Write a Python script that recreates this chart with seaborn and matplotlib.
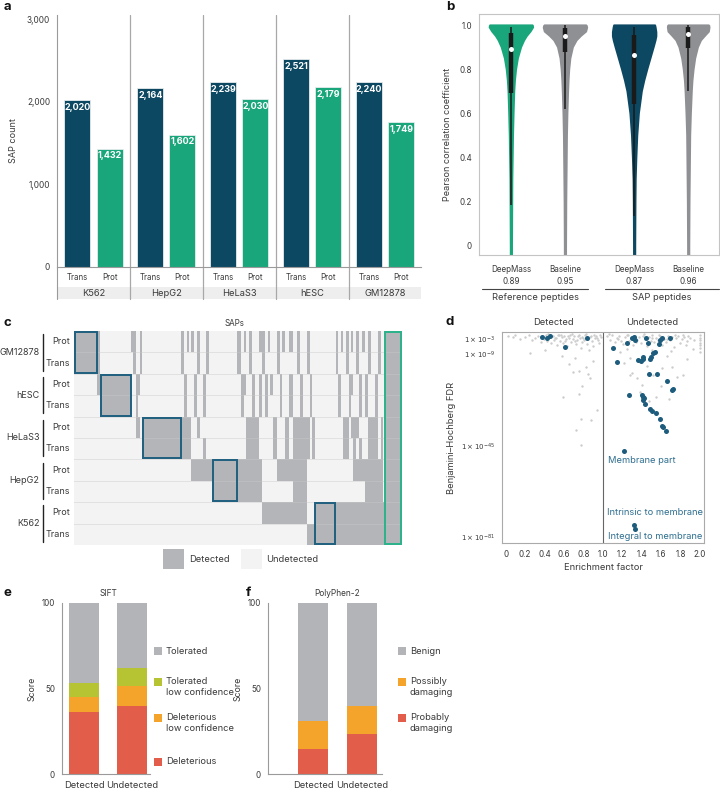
import numpy as np
import pandas as pd
import matplotlib
matplotlib.use("Agg")
import matplotlib.pyplot as plt
import seaborn as sns
from matplotlib.colors import ListedColormap
from matplotlib.patches import Rectangle
from matplotlib.lines import Line2D
import matplotlib.transforms as mtrans
from matplotlib.ticker import NullLocator

# ---------------- data ----------------
# panel a
cells_a = ["K562", "HepG2", "HeLaS3", "hESC", "GM12878"]
trans_counts = [2020, 2164, 2239, 2521, 2240]
prot_counts = [1432, 1602, 2030, 2179, 1749]

# panel b (violin half-width profiles, fraction of max width)
corr_grid = [-0.045, 0.0, 0.1, 0.2, 0.3, 0.4, 0.5, 0.6, 0.7, 0.75, 0.8, 0.85, 0.9, 0.93, 0.95, 0.97, 0.99, 1.0, 1.005]
ref_deepmass_w = [0.07, 0.07, 0.075, 0.08, 0.085, 0.10, 0.115, 0.14, 0.17, 0.20, 0.25, 0.33, 0.47, 0.60, 0.72, 0.88, 1.0, 0.99, 0.95]
ref_baseline_w = [0.07, 0.07, 0.075, 0.08, 0.09, 0.10, 0.11, 0.13, 0.16, 0.18, 0.21, 0.26, 0.37, 0.53, 0.72, 0.95, 1.0, 0.98, 0.93]
sap_deepmass_w = [0.07, 0.07, 0.075, 0.08, 0.09, 0.12, 0.16, 0.23, 0.36, 0.47, 0.60, 0.74, 0.88, 0.96, 1.0, 1.0, 0.97, 0.95, 0.92]
sap_baseline_w = [0.07, 0.07, 0.075, 0.08, 0.09, 0.10, 0.11, 0.14, 0.18, 0.21, 0.26, 0.33, 0.45, 0.58, 0.75, 0.93, 0.96, 0.95, 0.90]
violin_labels = ["DeepMass\n0.89", "Baseline\n0.95", "DeepMass\n0.87", "Baseline\n0.96"]
box_q1 = [0.692, 0.879, 0.639, 0.894]
box_q3 = [0.962, 0.985, 0.955, 0.990]
box_lo = [0.18, 0.62, 0.13, 0.70]
box_hi = [0.99, 1.0, 0.99, 1.0]
box_med = [0.89, 0.95, 0.865, 0.96]

# panel c: runs of SAP columns (width, detected pattern over the 10 rows)
row_types = ["Prot", "Trans"] * 5
cells_c = ["GM12878", "hESC", "HeLaS3", "HepG2", "K562"]
sap_widths = [23, 3, 31, 2, 3, 2, 2, 2, 39, 3, 3, 2, 2, 3, 3, 3, 3, 3, 3, 3, 25,
              3, 3, 2, 3, 3, 3, 4, 3, 3, 3, 2, 3, 4, 3, 2, 3, 4, 4, 4, 3, 3, 4,
              3, 2, 3, 21, 2, 3, 2, 3, 3, 2, 2, 3, 3, 3, 3, 3, 3, 4, 3, 3, 2, 2, 17]
sap_patterns = ["1100000000", "1110000000", "0011000000", "1000000000", "1100000000",
                "0011100000", "0010100000", "1100000000", "0000110000", "1100110000",
                "0011110000", "1000110000", "0000110000", "1000001000", "0011001000",
                "1100101000", "0000001000", "0011011000", "1100001000", "0000001000",
                "0000001100", "1100001100", "0011001100", "1010001100", "0000111100",
                "1100111100", "0011111100", "0000111100", "1011001100", "1100000010",
                "0011000010", "1000000010", "0010000010", "0000110010", "1100001010",
                "0011001010", "1000001010", "0000111010", "1011001010", "0000111110",
                "1100111110", "0011111110", "0000111110", "1100110001", "0011000001",
                "0000110001", "0000000011", "1100000011", "0011000011", "1000000011",
                "0000110011", "1100110011", "0011000011", "1010100011", "0000111011",
                "1100101011", "0011011011", "1000001011", "0011001111", "1100111111",
                "0000111111", "0011111111", "1100001111", "0000111111", "0000000011",
                "1111111111"]

# panel d: (enrichment, log10 FDR)
gray_x = [0.02, 0.08, 0.10, 0.15, 0.20, 0.24, 0.27, 0.30, 0.33, 0.36, 0.39, 0.41, 0.43, 0.45, 0.47,
          0.49, 0.50, 0.52, 0.53, 0.55, 0.56, 0.58, 0.59, 0.60, 0.62, 0.63, 0.65, 0.66, 0.67, 0.69,
          0.70, 0.72, 0.73, 0.74, 0.76, 0.77, 0.78, 0.79, 0.81, 0.82, 0.84, 0.85, 0.86, 0.88, 0.89,
          0.90, 0.92, 0.93, 0.95, 0.96, 0.98,
          0.44, 0.51, 0.57, 0.61, 0.64, 0.68, 0.71, 0.75, 0.80, 0.83, 0.87, 0.91, 0.94, 0.97, 0.54,
          0.25, 0.40, 0.65, 0.69, 0.75, 0.83, 0.85, 0.87, 0.79, 0.59, 0.75, 0.94, 0.88, 0.77, 0.72,
          0.77, 0.58, 0.71, 0.90,
          1.04, 1.07, 1.09, 1.12, 1.14, 1.17, 1.19, 1.21, 1.23, 1.25, 1.27, 1.29, 1.31, 1.33, 1.35,
          1.37, 1.39, 1.41, 1.43, 1.45, 1.47, 1.49, 1.51, 1.53, 1.55, 1.57, 1.59, 1.61, 1.63, 1.65,
          1.67, 1.69, 1.71, 1.73, 1.75, 1.77, 1.79, 1.81, 1.83, 1.85, 1.87, 1.90,
          1.06, 1.16, 1.26, 1.34, 1.42, 1.50, 1.58, 1.66, 1.74, 1.82, 1.88, 1.94,
          2.0, 2.0, 2.0, 2.0, 2.0, 2.0, 2.0,
          1.18, 1.28, 1.30, 1.35, 1.40, 1.52, 1.61, 1.71, 1.76, 1.82, 1.28, 1.38, 1.55, 1.22, 1.45,
          1.66, 1.86, 1.50, 1.25, 1.70, 1.93, 1.60, 1.47, 1.68]
gray_log_fdr = [-2.0, -2.4, -1.6, -3.0, -2.2, -1.5, -3.4, -2.6, -1.8, -4.0, -3.0, -1.5, -3.8, -2.2, -4.6,
                -1.8, -3.2, -2.5, -5.2, -1.6, -3.6, -2.3, -4.4, -1.9, -3.1, -5.8, -2.6, -1.5, -4.0, -3.0,
                -2.0, -5.0, -3.5, -1.7, -2.8, -6.5, -4.2, -2.2, -3.3, -1.6, -4.8, -2.9, -7.4, -2.0, -3.8,
                -5.6, -2.5, -1.7, -3.2, -4.5, -2.2,
                -1.2, -2.8, -1.3, -3.9, -2.0, -1.2, -3.7, -1.3, -2.6, -1.2, -2.4, -1.3, -2.7, -1.4, -1.3,
                -8.5, -7.3, -12.8, -16.0, -15.6, -14.0, -16.9, -18.5, -21.4, -25.8, -24.6, -30.9, -34.8, -34.4, -38.8,
                -44.7, -9.8, -10.5, -11.5,
                -2.0, -3.2, -1.6, -4.1, -2.5, -1.8, -3.6, -5.0, -2.2, -1.5, -3.9, -2.8, -5.5, -1.7, -3.3,
                -2.4, -4.6, -1.9, -3.0, -5.9, -2.1, -3.7, -1.6, -4.3, -2.6, -3.4, -1.8, -5.2, -2.9, -4.0,
                -1.7, -3.5, -2.3, -6.0, -2.7, -1.9, -4.4, -3.0, -2.2, -5.4, -3.6, -2.5,
                -1.2, -2.9, -1.3, -4.2, -1.2, -2.7, -1.3, -3.1, -1.4, -1.3, -2.0, -3.4,
                -1.5, -2.5, -3.5, -4.5, -5.5, -6.5, -8.0,
                -8.1, -10.5, -16.4, -18.3, -21.0, -17.0, -14.4, -14.0, -18.0, -17.0, -17.0, -24.0, -25.8, -12.5, -13.5,
                -9.5, -11.0, -7.5, -7.0, -7.8, -7.0, -21.5, -27.5, -26.5]
blue_x = [0.37, 0.43, 0.46, 0.61, 0.84,
          1.108, 1.149, 1.249, 1.297, 1.324, 1.331, 1.444, 1.461, 1.575, 1.592, 1.612, 1.688,
          1.365, 1.389, 1.410, 1.417, 1.485, 1.496, 1.520, 1.537, 1.479, 1.561, 1.657, 1.726, 1.712,
          1.273, 1.400, 1.410, 1.424, 1.417, 1.437, 1.485, 1.503, 1.547, 1.588, 1.612, 1.623, 1.647,
          1.218, 1.324, 1.334]
blue_log_fdr = [-2.1, -2.5, -1.95, -6.3, -2.6,
                -6.4, -11.9, -4.4, -2.5, -2.3, -3.3, -2.5, -4.6, -5.0, -3.4, -2.5, -2.5,
                -11.3, -11.7, -11.0, -9.9, -11.0, -9.9, -8.6, -8.2, -16.9, -16.9, -19.5, -22.8, -23.1,
                -25.0, -25.0, -25.7, -26.3, -27.0, -28.7, -30.7, -31.2, -32.2, -34.5, -37.2, -37.7, -39.0,
                -47.0, -76.3, -77.8]
d_ticks_exp = [-3, -9, -45, -81]

# panels e, f (percent)
groups_ef = ["Detected", "Undetected"]
sift_levels = ["Deleterious", "Deleterious\nlow confidence", "Tolerated\nlow confidence", "Tolerated"]
sift_det = [36.3, 9.0, 7.8, 46.9]
sift_und = [39.8, 11.8, 10.1, 38.3]
pp_levels = ["Probably\ndamaging", "Possibly\ndamaging", "Benign"]
pp_det = [14.5, 16.4, 69.1]
pp_und = [23.2, 16.6, 60.2]

# ---------------- style ----------------
DARK = "#0d4862"
GREEN = "#1aa67b"
VGRAY = "#8f9093"
TXT = "#3a3a3a"
AX = "#9a9a9a"
DET = "#b4b5b8"
UND = "#f3f3f3"
BOXBLUE = "#1f5f80"
BOXGREEN = "#2bb28a"
PTBLUE = "#1d5c7c"
SIFT_COLORS = ["#e35d4b", "#f5a42b", "#b6c433", "#b3b4b8"]
PP_COLORS = ["#e35d4b", "#f5a42b", "#b3b4b8"]

sns.set_theme(style="white")
plt.rcParams["font.family"] = ["Inter", "DejaVu Sans"]
plt.rcParams["text.color"] = TXT
plt.rcParams["axes.labelcolor"] = TXT
plt.rcParams["xtick.color"] = TXT
plt.rcParams["ytick.color"] = TXT
plt.rcParams["axes.edgecolor"] = AX
plt.rcParams["axes.linewidth"] = 0.8

W, H = 720, 792
fig = plt.figure(figsize=(7.2, 7.92), dpi=100)


def pbox(l, t, r, b):
    return [l / W, 1 - b / H, (r - l) / W, (b - t) / H]


def ftext(x, y, s, **kw):
    fig.text(x / W, 1 - y / H, s, **kw)


def style_ticks(ax, size=5.5):
    ax.tick_params(axis="both", which="both", length=3, width=0.7, color=AX, labelsize=size, pad=2)

# ---------------- panel a ----------------
ax_a = fig.add_axes(pbox(57, 15, 421, 267))
df_a = pd.DataFrame({"cell": cells_a * 2,
                     "type": ["Trans"] * 5 + ["Prot"] * 5,
                     "count": trans_counts + prot_counts})
sns.barplot(data=df_a, x="cell", y="count", hue="type", hue_order=["Trans", "Prot"], order=cells_a,
            palette={"Trans": DARK, "Prot": GREEN}, width=0.88, gap=0.19, saturation=1,
            edgecolor="#e6ecee", linewidth=0.6, legend=False, ax=ax_a)
ax_a.set_ylim(0, 3050)
ax_a.set_xlim(-0.5, 4.49)
ax_a.set_yticks([0, 1000, 2000, 3000])
ax_a.set_yticklabels(["0", "1,000", "2,000", "3,000"])
style_ticks(ax_a, 6)
ax_a.set_xticks([])
ax_a.set_xlabel("")
ax_a.set_ylabel("SAP count", fontsize=6.5, labelpad=6)
for s in ["top", "right"]:
    ax_a.spines[s].set_visible(False)
for cont in ax_a.containers:
    ax_a.bar_label(cont, labels=[f"{int(v):,}" for v in cont.datavalues], padding=-8.5,
                   color="white", fontsize=6.5, fontweight="bold")
bt = mtrans.blended_transform_factory(ax_a.transData, ax_a.transAxes)
ax_a.add_patch(Rectangle((0, -0.127), 1, 0.048, transform=ax_a.transAxes, color="#eeeeee",
                         lw=0, clip_on=False, zorder=0))
for xi in [0.5, 1.5, 2.5, 3.5]:
    ax_a.add_line(Line2D([xi, xi], [-0.127, 1.0], transform=bt, color="#a8a8a8", lw=0.9, clip_on=False))
ax_a.add_line(Line2D([-0.5, -0.5], [-0.127, 0.0], transform=bt, color=AX, lw=0.8, clip_on=False))
for i, c in enumerate(cells_a):
    ax_a.text(i, -0.104, c, transform=bt, ha="center", va="center", fontsize=6.7)
for cont, lab in zip(ax_a.containers, ["Trans", "Prot"]):
    for p in cont.patches:
        ax_a.text(p.get_x() + p.get_width() / 2, -0.04, lab, transform=bt, ha="center",
                  va="center", fontsize=5.7)

# ---------------- panel b ----------------
ax_b = fig.add_axes(pbox(479, 14, 719, 255))
vpos = [0, 1, 2.28, 3.28]
vcols = [GREEN, VGRAY, DARK, VGRAY]
vprof = [ref_deepmass_w, ref_baseline_w, sap_deepmass_w, sap_baseline_w]
maxw = 0.42
for k in range(4):
    hw = np.array(vprof[k]) * maxw
    ax_b.fill_betweenx(corr_grid, vpos[k] - hw, vpos[k] + hw, color=vcols[k], lw=0)
    ax_b.plot([vpos[k], vpos[k]], [box_lo[k], box_hi[k]], color="#1a1a1a", lw=1.1, solid_capstyle="butt")
    ax_b.plot([vpos[k], vpos[k]], [box_q1[k], box_q3[k]], color="#1a1a1a", lw=3.2, solid_capstyle="butt")
    ax_b.plot([vpos[k]], [box_med[k]], "o", color="white", ms=3.6, mec="none")
ax_b.set_xlim(-0.59, 3.85)
ax_b.set_ylim(-0.045, 1.05)
ax_b.set_yticks([0, 0.2, 0.4, 0.6, 0.8, 1.0])
ax_b.set_yticklabels(["0", "0.2", "0.4", "0.6", "0.8", "1.0"])
ax_b.set_xticks(vpos)
ax_b.set_xticklabels(violin_labels, linespacing=1.5)
style_ticks(ax_b, 5.8)
ax_b.tick_params(axis="x", pad=4)
ax_b.set_ylabel("Pearson correlation coefficient", fontsize=6.5, labelpad=5)
for s in ax_b.spines.values():
    s.set_color("#c4c4c4")
btb = mtrans.blended_transform_factory(ax_b.transData, ax_b.transAxes)
ax_b.add_line(Line2D([-0.54, 1.43], [-0.141, -0.141], transform=btb, color="#444444", lw=0.8, clip_on=False))
ax_b.add_line(Line2D([1.74, 3.85], [-0.141, -0.141], transform=btb, color="#444444", lw=0.8, clip_on=False))
ax_b.text(0.46, -0.178, "Reference peptides", transform=btb, ha="center", va="center", fontsize=6.7)
ax_b.text(2.8, -0.178, "SAP peptides", transform=btb, ha="center", va="center", fontsize=6.7)

# ---------------- panel c ----------------
ax_c = fig.add_axes(pbox(74, 331, 402, 545))
cols = []
for w, pat in zip(sap_widths, sap_patterns):
    col = [int(ch) for ch in pat]
    cols.extend([col] * w)
mat = np.array(cols).T
ncol = mat.shape[1]
sns.heatmap(mat, cmap=ListedColormap([UND, DET]), vmin=0, vmax=1, cbar=False,
            xticklabels=False, yticklabels=False, ax=ax_c)
ax_c.hlines(np.arange(1, 10), 0, ncol, colors="#c9c9c9", linestyles=(0, (1.2, 1.2)), lw=0.6)
x0 = 0
for w, pat in zip(sap_widths, sap_patterns):
    if w >= 15:
        rows = [i for i, ch in enumerate(pat) if ch == "1"]
        r0, r1 = min(rows), max(rows) + 1
        ec = BOXGREEN if len(rows) == 10 else BOXBLUE
        ax_c.add_patch(Rectangle((x0 + 0.5, r0 + 0.05), w - 1, r1 - r0 - 0.1, fill=False,
                                 ec=ec, lw=1.4, zorder=5, clip_on=False))
    x0 += w
btc = mtrans.blended_transform_factory(ax_c.transAxes, ax_c.transData)
for i, lab in enumerate(row_types):
    ax_c.text(-0.013, i + 0.5, lab, transform=btc, ha="right", va="center", fontsize=6.5)
for j, c in enumerate(cells_c):
    ax_c.text(-0.105, 2 * j + 1, c, transform=btc, ha="right", va="center", fontsize=6.5)
    ax_c.add_line(Line2D([-0.094, -0.094], [2 * j + 0.15, 2 * j + 1.85], transform=btc,
                         color="#222222", lw=1.0, clip_on=False))
ax_c.text(0.49, 1.035, "SAPs", transform=ax_c.transAxes, ha="center", va="center", fontsize=5.8)
fig.add_artist(Rectangle((163 / W, 1 - 569 / H), 21 / W, 20 / H, transform=fig.transFigure, color=DET, lw=0))
fig.add_artist(Rectangle((241 / W, 1 - 569 / H), 21 / W, 20 / H, transform=fig.transFigure, color=UND, lw=0))
ftext(189, 559, "Detected", fontsize=6.7, va="center")
ftext(266, 559, "Undetected", fontsize=6.7, va="center")

# ---------------- panel d ----------------
ax_d = fig.add_axes(pbox(502, 332, 704, 543))
sns.scatterplot(x=gray_x, y=10.0 ** np.array(gray_log_fdr), color="#cccccc", s=3, linewidth=0, ax=ax_d)
sns.scatterplot(x=blue_x, y=10.0 ** np.array(blue_log_fdr), color=PTBLUE, s=13, linewidth=0, ax=ax_d, zorder=3)
ax_d.set_yscale("log")
ax_d.set_ylim(10.0 ** -83.2, 10.0 ** -0.25)
ax_d.set_xlim(-0.038, 2.04)
ax_d.set_yticks([10.0 ** e for e in d_ticks_exp])
ax_d.set_yticklabels([rf"$1\times10^{{{e}}}$" for e in d_ticks_exp])
ax_d.yaxis.set_minor_locator(NullLocator())
ax_d.set_xticks(np.round(np.arange(0, 2.01, 0.2), 1))
ax_d.set_xticklabels(["0"] + [f"{v:.1f}" for v in np.arange(0.2, 2.01, 0.2)])
style_ticks(ax_d, 5.8)
ax_d.tick_params(axis="y", labelsize=5)
ax_d.axvline(1.0, color="#666666", lw=0.8)
ax_d.set_xlabel("Enrichment factor", fontsize=6.7, labelpad=3)
ax_d.set_ylabel("Benjamini–Hochberg FDR", fontsize=6.7, labelpad=4)
for s in ax_d.spines.values():
    s.set_color("#aaaaaa")
btd = mtrans.blended_transform_factory(ax_d.transData, ax_d.transAxes)
ax_d.text(0.49, 1.043, "Detected", transform=btd, ha="center", va="center", fontsize=6.7)
ax_d.text(1.51, 1.043, "Undetected", transform=btd, ha="center", va="center", fontsize=6.7)
ANN = "#2f6f90"
ax_d.text(1.05, 10.0 ** -50.9, "Membrane part", color=ANN, fontsize=6.7, va="center")
ax_d.text(1.04, 10.0 ** -71.4, "Intrinsic to membrane", color=ANN, fontsize=6.7, va="center")
ax_d.text(1.055, 10.0 ** -80.8, "Integral to membrane", color=ANN, fontsize=6.7, va="center")


# ---------------- panels e, f ----------------
def stacked(ax, det, und, colors, width):
    cum_det = np.cumsum(det)
    cum_und = np.cumsum(und)
    for k in range(len(det) - 1, -1, -1):
        sns.barplot(x=groups_ef, y=[cum_det[k], cum_und[k]], color=colors[k], saturation=1,
                    width=width, linewidth=0, ax=ax)
    ax.set_ylim(0, 100)
    ax.set_yticks([0, 50, 100])
    style_ticks(ax, 5.8)
    ax.tick_params(axis="x", labelsize=6.7)
    ax.set_ylabel("Score", fontsize=6.3, labelpad=4)
    for s in ["top", "right"]:
        ax.spines[s].set_visible(False)


ax_e = fig.add_axes(pbox(62, 603, 150, 774))
stacked(ax_e, sift_det, sift_und, SIFT_COLORS, 0.625)
ax_e.set_xlim(-0.458, 1.375)
ax_e.text(0.5, 1.058, "SIFT", transform=mtrans.blended_transform_factory(ax_e.transData, ax_e.transAxes),
          ha="center", va="center", fontsize=6)

ax_f = fig.add_axes(pbox(268, 603, 382, 774))
stacked(ax_f, pp_det, pp_und, PP_COLORS, 0.612)
ax_f.set_xlim(-0.918, 1.408)
ax_f.text(0.5, 1.058, "PolyPhen-2", transform=mtrans.blended_transform_factory(ax_f.transData, ax_f.transAxes),
          ha="center", va="center", fontsize=6)


def legend_item(x_sq, x_txt, y, color, label):
    s = 7.5
    fig.add_artist(Rectangle((x_sq / W, 1 - (y + s / 2) / H), s / W, s / H,
                             transform=fig.transFigure, color=color, lw=0))
    for k, ln in enumerate(label.split("\n")):
        ftext(x_txt, y + k * 10.3, ln, fontsize=6.7, va="center", ha="left")


sift_leg_y = [762, 718, 682, 651]
for lab, col, yy in zip(sift_levels, SIFT_COLORS, sift_leg_y):
    legend_item(154, 166, yy, col, lab)
pp_leg_y = [718, 682, 651]
for lab, col, yy in zip(pp_levels, PP_COLORS, pp_leg_y):
    legend_item(398, 410, yy, col, lab)

# ---------------- panel letters ----------------
for lab, x, y in [("a", 4, 7), ("b", 446, 7), ("c", 4, 323), ("d", 446, 322), ("e", 4, 593), ("f", 246, 593)]:
    ftext(x, y, lab, fontsize=9.5, fontweight="bold", va="center", ha="left", color="#111111")

fig.savefig("out.png", dpi=100)
